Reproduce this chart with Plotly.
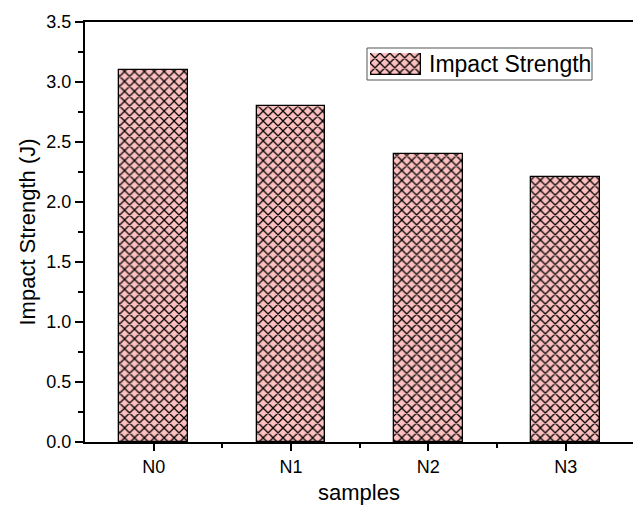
import plotly.graph_objects as go

categories = ["N0", "N1", "N2", "N3"]
impact_strength = [3.1, 2.8, 2.4, 2.21]
series_name = "Impact Strength"
y_tick_vals = [0.0, 0.5, 1.0, 1.5, 2.0, 2.5, 3.0, 3.5]
y_tick_text = ["0.0", "0.5", "1.0", "1.5", "2.0", "2.5", "3.0", "3.5"]

xpos = list(range(len(categories)))
PINK = "#FFC0C0"
pattern = dict(shape="x", fgcolor="black", bgcolor=PINK, size=7,
               solidity=0.33, fillmode="replace")

fig = go.Figure()
fig.add_trace(go.Bar(
    x=xpos, y=impact_strength, name=series_name, width=0.5,
    marker=dict(color=PINK, line=dict(color="black", width=1.3), pattern=pattern),
    showlegend=False,
))

# legend swatch (drawn as a bar on a small helper axis)
fig.add_trace(go.Bar(
    x=[0], y=[1], width=1, xaxis="x2", yaxis="y2", showlegend=False,
    hoverinfo="skip",
    marker=dict(color=PINK, line=dict(color="black", width=1.3), pattern=pattern),
))

font = "Liberation Sans, Arial, sans-serif"

def px_x(px):
    return (px - 85) / 548

def px_y(py):
    return (442 - py) / 420

fig.add_shape(type="rect", xref="paper", yref="paper",
              x0=px_x(367), x1=px_x(592), y0=px_y(80), y1=px_y(48),
              line=dict(color="#555555", width=1), fillcolor="white", layer="below")
fig.add_annotation(text=series_name, xref="paper", yref="paper",
                   x=px_x(427), y=px_y(64.5), xanchor="left", yanchor="middle",
                   showarrow=False, font=dict(size=23, family=font, color="black"))

fig.update_layout(
    width=633, height=505,
    margin=dict(l=85, r=0, t=22, b=63),
    plot_bgcolor="white", paper_bgcolor="white",
    font=dict(family=font, color="black", size=18),
    showlegend=False,
    bargap=0,
    xaxis=dict(range=[-0.5, 3.49], tickmode="array", tickvals=xpos,
               ticktext=categories, ticks="outside", ticklen=7, tickwidth=1.5,
               tickcolor="black", showline=True, linecolor="black", linewidth=2,
               mirror=True, showgrid=False, zeroline=False,
               tickfont=dict(size=18),
               minor=dict(tickmode="array", tickvals=[0.5, 1.5, 2.5],
                          ticks="outside", ticklen=4, tickwidth=1.5, tickcolor="black"),
               title=dict(text="samples", font=dict(size=22), standoff=10)),
    yaxis=dict(range=[0, 3.5], tickmode="array", tickvals=y_tick_vals,
               ticktext=y_tick_text, ticks="outside", ticklen=8, tickwidth=1.5,
               tickcolor="black", showline=True, linecolor="black", linewidth=2,
               showgrid=False, zeroline=False, tickfont=dict(size=18),
               minor=dict(dtick=0.25, ticks="outside", ticklen=5, tickwidth=1.5,
                          tickcolor="black"),
               title=dict(text="Impact Strength (J)", font=dict(size=22), standoff=5)),
    xaxis2=dict(domain=[px_x(370), px_x(421)], range=[-0.5, 0.5], visible=False,
                anchor="y2", fixedrange=True),
    yaxis2=dict(domain=[px_y(75), px_y(53)], range=[0, 1], visible=False,
                anchor="x2", fixedrange=True),
)

fig.write_html("out.html")
